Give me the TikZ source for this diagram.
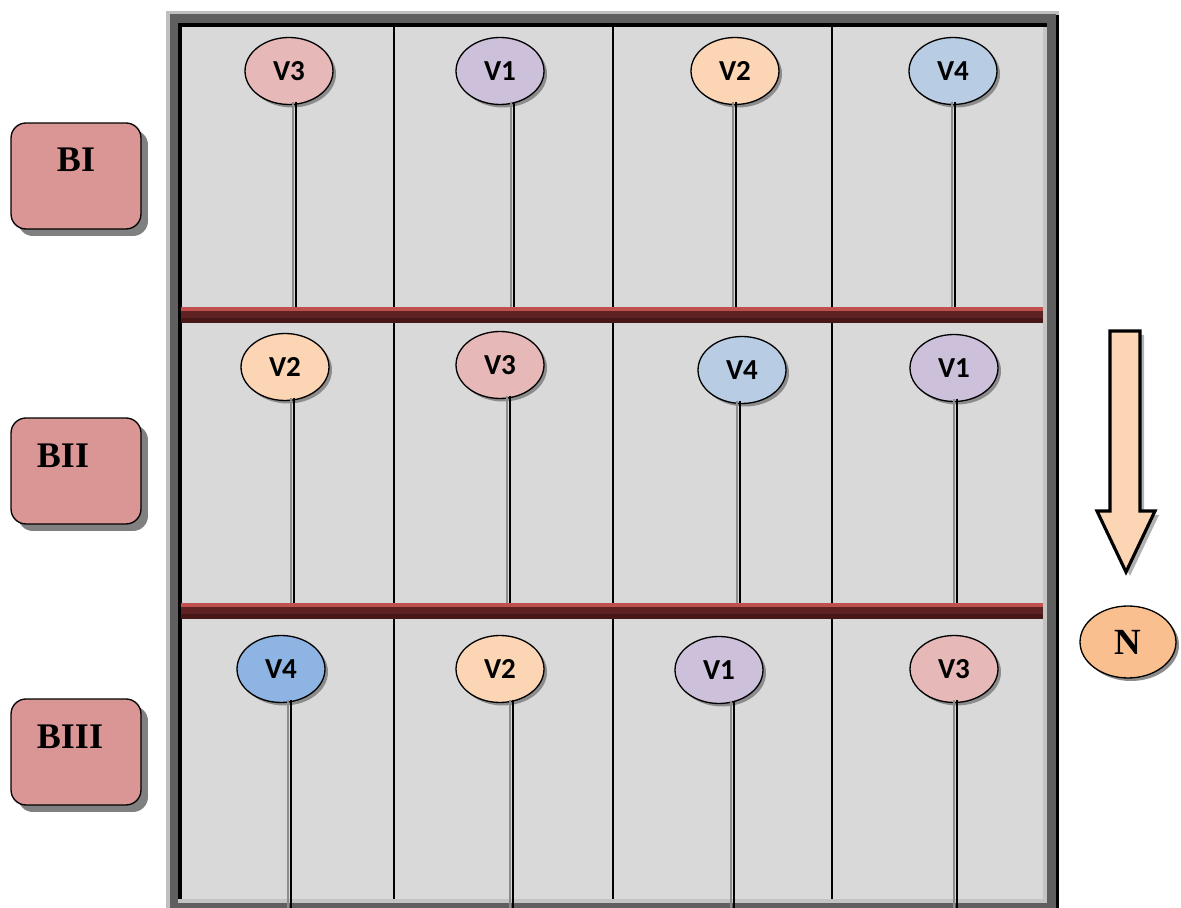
\documentclass[tikz,border=0pt]{standalone}
\usepackage{fontspec}
\setmainfont{Liberation Serif}
\newfontfamily\plotfont{Carlito}
\usetikzlibrary{shapes.geometric,shadows}
\definecolor{plotedge}{HTML}{BFBFBF}
\definecolor{plotframe}{HTML}{5F5F5F}
\definecolor{plotrim}{HTML}{C4C4C4}
\definecolor{plotfield}{HTML}{D9D9D9}
\definecolor{beamtop}{HTML}{C0504D}
\definecolor{beamdark}{HTML}{5E2222}
\definecolor{beamlow}{HTML}{481818}
\definecolor{blockfill}{HTML}{DA9694}
\definecolor{varone}{HTML}{CCC0DA}
\definecolor{vartwo}{HTML}{FCD5B4}
\definecolor{varthree}{HTML}{E6B8B7}
\definecolor{varfour}{HTML}{B8CCE4}
\definecolor{varfourdark}{HTML}{8DB4E2}
\definecolor{northfill}{HTML}{FABF8F}
\tikzset{
  plotvar/.style={ellipse, draw=black, line width=0.75pt, minimum width=1.76cm,
    minimum height=1.34cm, inner sep=0pt, font=\plotfont\bfseries\fontsize{16.5}{18}\selectfont,
    drop shadow={shadow xshift=0.06cm, shadow yshift=-0.06cm, fill=black!45, opacity=1}},
  blockbox/.style={draw=black, line width=0.75pt, fill=blockfill, rounded corners=0.3cm,
    minimum width=2.6cm, minimum height=2.12cm,
    drop shadow={shadow xshift=0.14cm, shadow yshift=-0.14cm, fill=black!50, opacity=1}},
  blocklbl/.style={font=\bfseries\fontsize{20.5}{24}\selectfont, inner sep=0pt},
  stem/.style={draw=black, line width=1.6pt, shorten <=-2pt,
    preaction={draw=black!45, line width=1.4pt, shorten <=-2pt, transform canvas={xshift=-1.7pt}}},
  divider/.style={draw=black, line width=1.1pt},
  northarrow/.style={draw=black, line width=1.8pt, fill=vartwo, line join=miter,
    drop shadow={shadow xshift=0.08cm, shadow yshift=-0.08cm, fill=black!30, opacity=1}},
}
\newcommand{\plotbeam}[1]{%
  \fill[beamtop] (181,#1) rectangle (1043,#1+4);
  \fill[beamdark] (181,#1+4) rectangle (1043,#1+11);
  \fill[beamlow] (181,#1+11) rectangle (1043,#1+16);}

\begin{document}
\begin{tikzpicture}[x=0.02cm, y=-0.02cm]
  \useasboundingbox (0,0) rectangle (1181,908);
  % frame of the field
  \fill[plotedge] (166,11) rectangle (1059,908);
  \fill[plotframe] (170,14) rectangle (1056,908);
  \fill[black] (1056,15) rectangle (1059,908);
  \fill[plotrim] (178,25) rectangle (1047,903);
  \fill[plotfield] (182,27) rectangle (1043,899);
  \fill[black] (178,23) rectangle (1047,27);
  \fill[black] (178,23) rectangle (182,899);
  \draw[divider] (394,27) -- (394,899);
  \draw[divider] (613,27) -- (613,899);
  \draw[divider] (832,27) -- (832,899);

  % blocks
  \node[blockbox] (bi) at (76,176) {};
  \node[blockbox] (bii) at (76,471) {};
  \node[blockbox] (biii) at (76,752) {};
  \node[blocklbl] (bi-lbl) at (76,160) {BI};
  \node[blocklbl] (bii-lbl) at (63,456) {BII};
  \node[blocklbl] (biii-lbl) at (70,737) {BIII};

  % plots, block I
  \node[plotvar, fill=varthree] (bi-v3) at (289,71) {V3};
  \node[plotvar, fill=varone] (bi-v1) at (500,71) {V1};
  \node[plotvar, fill=vartwo] (bi-v2) at (735,71) {V2};
  \node[plotvar, fill=varfour] (bi-v4) at (953,71) {V4};
  \coordinate (bi-v3-end) at (296,309);
  \coordinate (bi-v1-end) at (514,309);
  \coordinate (bi-v2-end) at (736,309);
  \coordinate (bi-v4-end) at (955,309);
  \draw[stem] (bi-v3-end |- bi-v3.south) -- (bi-v3-end);
  \draw[stem] (bi-v1-end |- bi-v1.south) -- (bi-v1-end);
  \draw[stem] (bi-v2-end |- bi-v2.south) -- (bi-v2-end);
  \draw[stem] (bi-v4-end |- bi-v4.south) -- (bi-v4-end);

  % plots, block II
  \node[plotvar, fill=vartwo] (bii-v2) at (285,367) {V2};
  \node[plotvar, fill=varthree] (bii-v3) at (500,365) {V3};
  \node[plotvar, fill=varfour] (bii-v4) at (742,370) {V4};
  \node[plotvar, fill=varone] (bii-v1) at (954,368) {V1};
  \coordinate (bii-v2-end) at (294,605);
  \coordinate (bii-v3-end) at (510,605);
  \coordinate (bii-v4-end) at (740,605);
  \coordinate (bii-v1-end) at (957,605);
  \draw[stem] (bii-v2-end |- bii-v2.south) -- (bii-v2-end);
  \draw[stem] (bii-v3-end |- bii-v3.south) -- (bii-v3-end);
  \draw[stem] (bii-v4-end |- bii-v4.south) -- (bii-v4-end);
  \draw[stem] (bii-v1-end |- bii-v1.south) -- (bii-v1-end);

  % plots, block III
  \node[plotvar, fill=varfourdark] (biii-v4) at (281,669) {V4};
  \node[plotvar, fill=vartwo] (biii-v2) at (500,669) {V2};
  \node[plotvar, fill=varone] (biii-v1) at (719,670) {V1};
  \node[plotvar, fill=varthree] (biii-v3) at (954,669) {V3};
  \coordinate (biii-v4-end) at (291,908);
  \coordinate (biii-v2-end) at (513,908);
  \coordinate (biii-v1-end) at (734,908);
  \coordinate (biii-v3-end) at (957,908);
  \draw[stem] (biii-v4-end |- biii-v4.south) -- (biii-v4-end);
  \draw[stem] (biii-v2-end |- biii-v2.south) -- (biii-v2-end);
  \draw[stem] (biii-v1-end |- biii-v1.south) -- (biii-v1-end);
  \draw[stem] (biii-v3-end |- biii-v3.south) -- (biii-v3-end);

  % beams between blocks
  \plotbeam{307}
  \plotbeam{603}

  % north sign
  \draw[northarrow] (1110,331) -- (1140,331) -- (1140,511) -- (1155,511)
    -- (1126,572) -- (1097,511) -- (1110,511) -- cycle;
  \node[plotvar, fill=northfill, minimum width=1.92cm, minimum height=1.44cm,
    font=\bfseries\fontsize{21}{24}\selectfont] (north) at (1128,642) {N};
\end{tikzpicture}
\end{document}
